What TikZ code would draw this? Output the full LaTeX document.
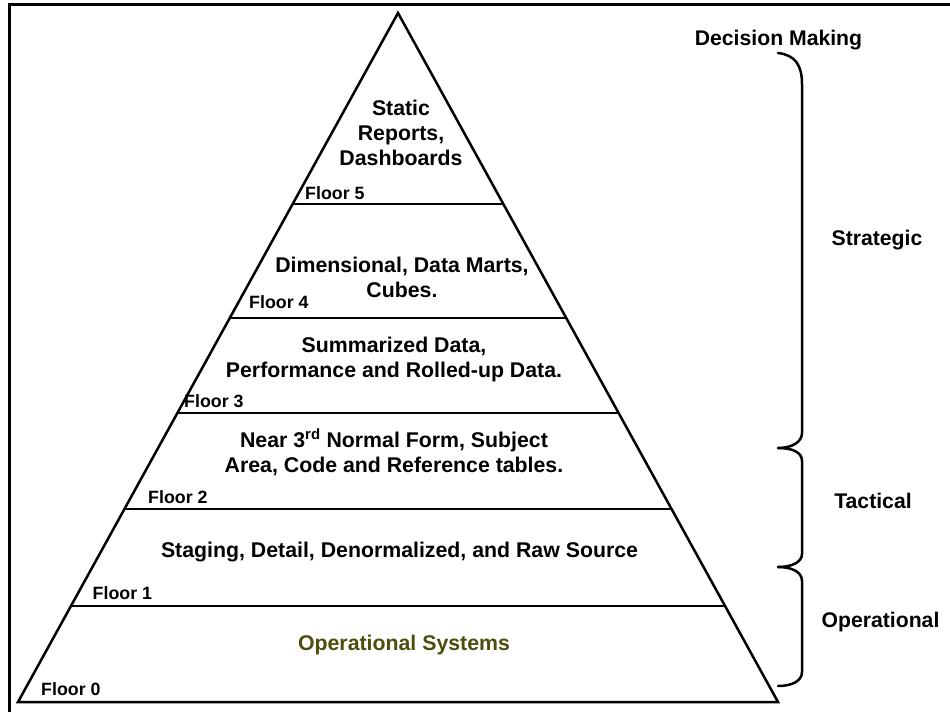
\documentclass[tikz,border=0pt]{standalone}
\usepackage{fontspec}
\setmainfont{Liberation Sans}
\usetikzlibrary{calc}
\definecolor{olivetext}{RGB}{77,77,13}
\begin{document}
\begin{tikzpicture}[x=1pt,y=-1pt,
  frameline/.style={line width=3pt},
  pyrline/.style={line width=2.5pt,line join=miter},
  floorline/.style={line width=2.5pt},
  braceline/.style={line width=2.5pt,line cap=round},
  layertext/.style={font=\bfseries\fontsize{21.3}{25}\selectfont,align=center,inner sep=0pt,anchor=base},
  floorlabel/.style={font=\bfseries\fontsize{17.8}{20}\selectfont,inner sep=0pt,anchor=base west},
  sidelabel/.style={font=\bfseries\fontsize{21.2}{25}\selectfont,inner sep=0pt,anchor=base}]
\useasboundingbox (0,0) rectangle (950,712);
% frame
\coordinate (fbl) at (9,712);
\coordinate (ftl) at (9,4.5);
\coordinate (ftr) at (950,4.5);
\draw[frameline] (fbl) -- (ftl) -- (ftr);
% pyramid
\coordinate (apex) at (398,13);
\coordinate (bl) at (18,702);
\coordinate (br) at (778,702);
\draw[pyrline] (apex) -- (bl) -- (br) -- cycle;
% floor lines
\foreach \n/\t in {5/0.2772,4/0.4427,3/0.5806,2/0.7199,1/0.8607}{
  \coordinate (f\n l) at ($(apex)!\t!(bl)$);
  \coordinate (f\n r) at ($(apex)!\t!(br)$);
}
\draw[floorline] (f5l) -- (f5r);
\draw[floorline] (f4l) -- (f4r);
\draw[floorline] (f3l) -- (f3r);
\draw[floorline] (f2l) -- (f2r);
\draw[floorline] (f1l) -- (f1r);
% floor labels
\node[floorlabel] (fl0) at (41,695) {Floor 0};
\node[floorlabel] (fl1) at (92.5,599) {Floor 1};
\node[floorlabel] (fl2) at (148,503) {Floor 2};
\node[floorlabel] (fl3) at (184,407.5) {Floor 3};
\node[floorlabel] (fl4) at (249,308) {Floor 4};
\node[floorlabel] (fl5) at (305,199) {Floor 5};
% layer texts (anchor = baseline of last line)
\node[layertext] (static) at (401,165) {Static\\Reports,\\Dashboards};
\node[layertext] (dim) at (402,297) {Dimensional, Data Marts,\\Cubes.};
\node[layertext] (summ) at (394,377) {Summarized Data,\\Performance and Rolled-up Data.};
\node[layertext] (near) at (394,472) {Near 3\textsuperscript{rd} Normal Form, Subject\\Area, Code and Reference tables.};
\node[layertext] (staging) at (399.5,557) {Staging, Detail, Denormalized, and Raw Source};
\node[layertext,text=olivetext] (opsys) at (404,650) {Operational Systems};
% side labels
\node[sidelabel] (decision) at (778.5,45) {Decision Making};
\node[sidelabel] (strategic) at (877,245) {Strategic};
\node[sidelabel] (tactical) at (873,508) {Tactical};
\node[sidelabel] (operational) at (880.5,627) {Operational};
% braces
\coordinate (b0) at (778,53);
\coordinate (b1) at (778,448);
\coordinate (b2) at (778,567);
\coordinate (b3) at (778,686);
\draw[braceline] (b0) .. controls (795,55) and (802,65) .. (802,84) -- (802,433)
  .. controls (802,442) and (792,448) .. (b1);
\draw[braceline] (b1) .. controls (792,448) and (802,452) .. (802,461) -- (802,554)
  .. controls (802,562) and (792,567) .. (b2);
\draw[braceline] (b2) .. controls (792,567) and (802,572) .. (802,581) -- (802,672)
  .. controls (802,681) and (792,686) .. (b3);
\end{tikzpicture}
\end{document}
